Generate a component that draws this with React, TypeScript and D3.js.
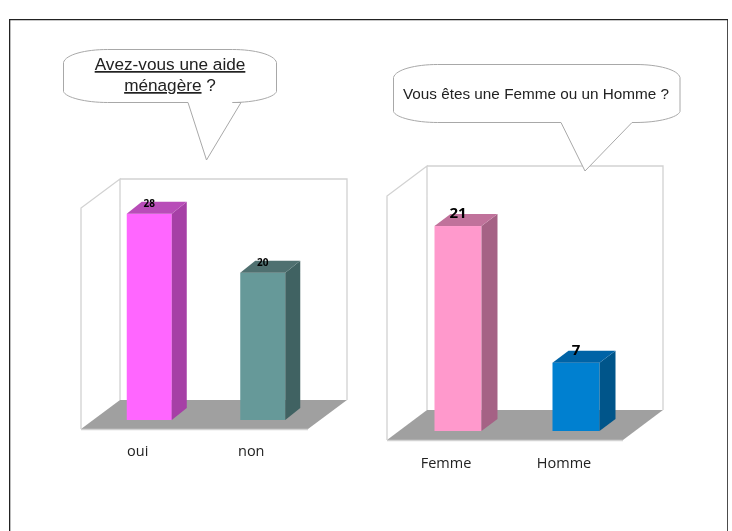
import * as d3 from "d3";

const leftCategories = ["oui", "non"];
const leftValues = [28, 20];
const leftColors = ["#ff66ff", "#669999"];
const leftSideColors = ["#a63fa6", "#3f6262"];
const leftTopColors = ["#b84db8", "#4f7070"];

const rightCategories = ["Femme", "Homme"];
const rightValues = [21, 7];
const rightColors = ["#ff99cc", "#0080d0"];
const rightSideColors = ["#a56285", "#00548a"];
const rightTopColors = ["#c0729b", "#0064a6"];

const WALL = "#d2d2d2";
const CALLOUT = "#a8a8a8";

type Chart3DProps = {
    categories: string[];
    values: number[];
    colors: string[];
    sideColors: string[];
    topColors: string[];
    yMax: number;
    frontLeft: number;
    frontRight: number;
    floorFront: number;
    depthX: number;
    depthY: number;
    wallTop: number;
    barWidth: number;
    barDx: number;
    barDy: number;
    barLift: number;
    barShift: number;
    valueSize: number;
    valueGap: number;
    labelY: number;
};

const pts = (p: number[][]) => p.map((d) => d.join(",")).join(" ");

const Chart3D = (props: Chart3DProps) => {
    const { categories, values, colors, sideColors, topColors, yMax, frontLeft, frontRight, floorFront, depthX, depthY, wallTop } = props;
    const { barWidth, barDx, barDy, barLift, barShift, valueSize, valueGap, labelY } = props;

    const x = d3.scaleBand<string>().domain(categories).range([frontLeft, frontRight]);
    const baseY = floorFront - barLift;
    const y = d3.scaleLinear().domain([0, yMax]).range([baseY, baseY - (floorFront - wallTop)]);

    const backTop = wallTop - depthY;
    const backFloor = floorFront - depthY;
    const backLeft = frontLeft + depthX;
    const backRight = frontRight + depthX;

    return (
        <g>
            <polygon points={pts([[frontLeft, floorFront], [frontRight, floorFront], [backRight, backFloor], [backLeft, backFloor]])} fill="#a0a0a0" />
            <polyline
                points={pts([[frontLeft, floorFront], [frontLeft, wallTop], [backLeft, backTop], [backLeft, backFloor]])}
                fill="none" stroke={WALL} strokeWidth={1.3}
            />
            <polyline
                points={pts([[backLeft, backTop], [backRight, backTop], [backRight, backFloor]])}
                fill="none" stroke={WALL} strokeWidth={1.3}
            />
            <line x1={frontLeft} x2={frontRight} y1={floorFront + 0.5} y2={floorFront + 0.5} stroke={WALL} strokeWidth={1.3} />
            {categories.map((c, i) => {
                const left = x(c)! + x.bandwidth() / 2 + barShift - barWidth / 2;
                const right = left + barWidth;
                const top = y(values[i]);
                return (
                    <g key={c}>
                        <rect x={left} y={top} width={barWidth} height={baseY - top} fill={colors[i]} />
                        <polygon points={pts([[right, top], [right + barDx, top - barDy], [right + barDx, baseY - barDy], [right, baseY]])} fill={sideColors[i]} />
                        <polygon points={pts([[left, top], [left + barDx, top - barDy], [right + barDx, top - barDy], [right, top]])} fill={topColors[i]} />
                        <text
                            x={left + barWidth / 2} y={top - valueGap} textAnchor="middle"
                            fontFamily="'Open Sans', sans-serif" fontWeight={700} fontSize={valueSize} fill="#000"
                        >
                            {values[i]}
                        </text>
                        <text
                            x={x(c)! + x.bandwidth() / 2} y={labelY} textAnchor="middle"
                            fontFamily="'Open Sans', sans-serif" fontSize={14.5} fill="#222"
                        >
                            {c}
                        </text>
                    </g>
                );
            })}
        </g>
    );
};

// speech bubble outline, the body has very rounded corners
const bubblePath = (x0: number, y0: number, x1: number, y1: number, tailA: number, tipX: number, tipY: number, tailB: number) => {
    const path = d3.path();
    const rx = 22;
    const sag = 5;
    path.moveTo(x0, y0 + 13);
    path.bezierCurveTo(x0 + 2, y0 + sag, x0 + rx, y0, x0 + rx * 2, y0);
    path.lineTo(x1 - rx * 2, y0);
    path.bezierCurveTo(x1 - rx, y0, x1 - 2, y0 + sag, x1, y0 + 13);
    path.lineTo(x1, y1 - 11);
    path.bezierCurveTo(x1 - 2, y1 - sag, x1 - rx, y1, x1 - rx * 2, y1);
    path.lineTo(tailB, y1);
    path.lineTo(tipX, tipY);
    path.lineTo(tailA, y1);
    path.lineTo(x0 + rx * 2, y1);
    path.bezierCurveTo(x0 + rx, y1, x0 + 2, y1 - sag, x0, y1 - 11);
    path.closePath();
    return path.toString();
};

export default function App() {
    const font = "'Liberation Sans', Arial, sans-serif";
    return (
        <svg width={732} height={531} style={{ position: "absolute", left: 0, top: 0, background: "#fff" }}>
            <defs>
                {/* the reference is a soft, scanned looking image */}
                <filter id="soft" x="0" y="0" width="100%" height="100%">
                    <feGaussianBlur stdDeviation={0.4} />
                </filter>
            </defs>
            <g filter="url(#soft)">
                <polyline points="9.5,531 9.5,19.5 728,19.5 728,531" fill="none" stroke="#222" strokeWidth={1.6} />

                <Chart3D
                    categories={leftCategories} values={leftValues} colors={leftColors} sideColors={leftSideColors} topColors={leftTopColors}
                    yMax={30} frontLeft={81} frontRight={308} floorFront={429} depthX={39} depthY={29} wallTop={208}
                    barWidth={45} barDx={15} barDy={12} barLift={9} barShift={11.5} valueSize={10} valueGap={7} labelY={456}
                />
                <Chart3D
                    categories={rightCategories} values={rightValues} colors={rightColors} sideColors={rightSideColors} topColors={rightTopColors}
                    yMax={25} frontLeft={387} frontRight={623} floorFront={440} depthX={40} depthY={30} wallTop={196}
                    barWidth={47} barDx={16} barDy={12} barLift={9} barShift={12} valueSize={15} valueGap={8} labelY={468}
                />

                <path d={bubblePath(63.5, 49.5, 276.5, 102.5, 188, 206.5, 160, 241)} fill="#fff" stroke={CALLOUT} strokeWidth={1} />
                <text x={170} y={70} textAnchor="middle" fontFamily={font} fontSize={17.2} fill="#222">
                    <tspan textDecoration="underline">Avez-vous une aide</tspan>
                </text>
                <text x={170} y={91} textAnchor="middle" fontFamily={font} fontSize={17.2} fill="#222">
                    <tspan textDecoration="underline">ménagère</tspan> ?
                </text>

                <path d={bubblePath(393.5, 64.5, 680, 122.5, 561, 585, 171, 632)} fill="#fff" stroke={CALLOUT} strokeWidth={1} />
                <text x={536} y={99} textAnchor="middle" fontFamily={font} fontSize={15.3} fill="#222">
                    Vous êtes une Femme ou un Homme ?
                </text>
            </g>
        </svg>
    );
}
